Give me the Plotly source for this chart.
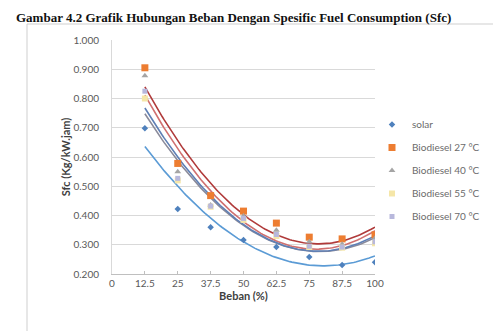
import numpy as np
import plotly.graph_objects as go

beban = [12.5, 25, 37.5, 50, 62.5, 75, 87.5, 100]
x_ticks = [0, 12.5, 25, 37.5, 50, 62.5, 75, 87.5, 100]
x_tick_labels = ["0", "12.5", "25", "37.5", "50", "62.5", "75", "87.5", "100"]
y_ticks = [0.2, 0.3, 0.4, 0.5, 0.6, 0.7, 0.8, 0.9, 1.0]
y_tick_labels = ["0.200", "0.300", "0.400", "0.500", "0.600", "0.700", "0.800", "0.900", "1.000"]

series_names = ["solar", "Biodiesel 27 °C", "Biodiesel 40 °C", "Biodiesel 55 °C", "Biodiesel 70 °C"]
solar = [0.698, 0.422, 0.360, 0.316, 0.292, 0.258, 0.231, 0.240]
bio27 = [0.905, 0.578, 0.468, 0.415, 0.374, 0.326, 0.320, 0.334]
bio40 = [0.878, 0.550, 0.436, 0.398, 0.350, 0.310, 0.302, 0.322]
bio55 = [0.800, 0.520, 0.430, 0.385, 0.330, 0.292, 0.290, 0.305]
bio70 = [0.825, 0.527, 0.432, 0.390, 0.335, 0.295, 0.292, 0.310]
all_series = [solar, bio27, bio40, bio55, bio70]

marker_colors = ["#4F81BD", "#ED7D31", "#A5A5A5", "#F5E6A8", "#B8B8DC"]
marker_symbols = ["diamond", "square", "triangle-up", "square", "square"]
marker_sizes = [5, 7, 6, 6, 5]
trend_colors = ["#5B9BD5", "#B03A3A", "#D07070", "#8A8A9A", "#5E7FB5"]

fig = go.Figure()
xs = np.linspace(12.5, 100, 120)
for i, (name, vals) in enumerate(zip(series_names, all_series)):
    coef = np.polyfit(beban, vals, 2)
    fig.add_trace(go.Scatter(
        x=xs, y=np.polyval(coef, xs), mode="lines",
        line=dict(color=trend_colors[i], width=1.6),
        showlegend=False, legendgroup=name, hoverinfo="skip"))
for i, (name, vals) in enumerate(zip(series_names, all_series)):
    fig.add_trace(go.Scatter(
        x=beban, y=vals, mode="markers", name=name, legendgroup=name,
        marker=dict(color=marker_colors[i], symbol=marker_symbols[i], size=marker_sizes[i])))

W, H = 501, 331
L, R, T, B = 104, 367, 32, 266
pw, ph = R - L, B - T

def px_x(p):
    return (p - L) / pw

def px_y(p):
    return (B - p) / ph

fig.update_layout(
    width=W, height=H,
    margin=dict(l=L, r=W - R, t=T, b=H - B),
    paper_bgcolor="white", plot_bgcolor="white",
    font=dict(family="Lato, Liberation Sans, sans-serif", size=10, color="#595959"),
    legend=dict(
        x=px_x(364), y=px_y(102), xanchor="left", yanchor="top",
        font=dict(size=10, color="#6b6b6b"),
        tracegroupgap=4, traceorder="grouped",
        bgcolor="rgba(0,0,0,0)"),
    xaxis=dict(
        range=[0, 100], tickvals=x_ticks, ticktext=x_tick_labels,
        showgrid=False, zeroline=False, showline=True, linecolor="#BFBFBF", linewidth=1,
        ticks="inside", ticklen=3, tickcolor="#BFBFBF",
        tickfont=dict(size=10, color="#595959"),
        title=dict(text="<b>Beban (%)</b>", font=dict(size=11, color="#404040"), standoff=2)),
    yaxis=dict(
        range=[0.2, 1.0], tickvals=y_ticks, ticktext=y_tick_labels,
        showgrid=True, gridcolor="#D9D9D9", gridwidth=1, zeroline=False,
        showline=True, linecolor="#D9D9D9", linewidth=1,
        ticks="", ticklabelstandoff=10,
        tickfont=dict(size=10, color="#595959"),
        title=dict(text="<b>Sfc (Kg/kW.jam)</b>", font=dict(size=11, color="#404040"), standoff=0)),
    shapes=[dict(type="rect", xref="paper", yref="paper",
                 x0=px_x(19), x1=px_x(520), y0=px_y(340), y1=px_y(16),
                 line=dict(color="#CFCFCF", width=1), layer="below")],
    annotations=[dict(
        text="<b>Gambar 4.2 Grafik Hubungan Beban Dengan Spesific Fuel Consumption (Sfc)</b>",
        xref="paper", yref="paper", x=px_x(6), y=px_y(0),
        xanchor="left", yanchor="top", showarrow=False,
        font=dict(family="Liberation Serif, serif", size=13, color="#111111"))],
)

fig.write_html("out.html")
